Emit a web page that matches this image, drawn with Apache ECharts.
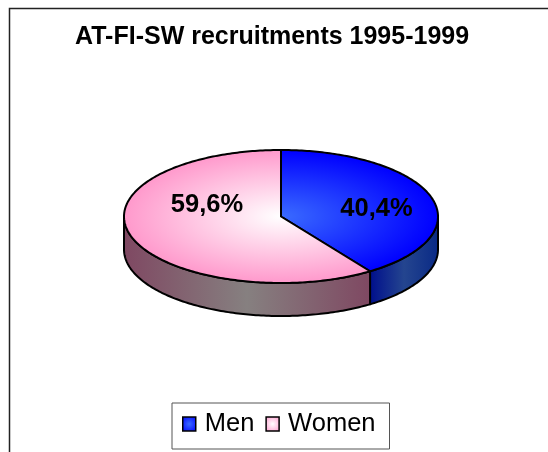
<!DOCTYPE html>
<html><head><meta charset="utf-8">
<style>html,body{margin:0;padding:0;background:#fff}#c{width:548px;height:452px}</style>
<script src="https://cdn.jsdelivr.net/npm/echarts@6/dist/echarts.min.js"></script>
</head><body><div id="c"></div>
<script>
var categories = ["Men", "Women"];
var values = [40.4, 59.6];
var labels = ["40,4%", "59,6%"];
var titleText = "AT-FI-SW recruitments 1995-1999";

var CX = 281, CY = 216.5, RX = 157, RY = 66.5, DEPTH = 33;
var topGrad = [["#3a6bff", "#0000ff"], ["#ffffff", "#ff99cc"]];
var sideGrad = [
  [[0, "#000f8c"], [0.5, "#24458f"], [1, "#0a2a86"]],
  [[0, "#7f4862"], [0.5, "#868080"], [1, "#7f4862"]]
];
var total = values.reduce(function (a, b) { return a + b; }, 0);

function pt(a, dy) { return [CX + RX * Math.sin(a), CY + RY * -Math.cos(a) + (dy || 0)]; }
function arcPts(a0, a1, dy) {
  var n = Math.max(2, Math.ceil(Math.abs(a1 - a0) * 60)), out = [];
  for (var i = 0; i <= n; i++) out.push(pt(a0 + (a1 - a0) * i / n, dy));
  return out;
}

function makeRender(idx) {
  return function () {
    var before = 0;
    for (var k = 0; k < idx; k++) before += values[k];
    var a0 = before / total * 2 * Math.PI;
    var a1 = (before + values[idx]) / total * 2 * Math.PI;
    var children = [];
    var s0 = Math.max(a0, Math.PI / 2), s1 = Math.min(a1, 3 * Math.PI / 2);
    if (s1 > s0) {
      var top = arcPts(s0, s1, 0), bot = arcPts(s1, s0, DEPTH);
      var xs = top.map(function (p) { return p[0]; });
      var minX = Math.min.apply(null, xs), maxX = Math.max.apply(null, xs);
      children.push({
        type: "polygon",
        shape: { points: top.concat(bot) },
        style: {
          fill: {
            type: "linear", x: minX, y: 0, x2: maxX, y2: 0, global: true,
            colorStops: sideGrad[idx].map(function (s) { return { offset: s[0], color: s[1] }; })
          },
          stroke: "#000", lineWidth: 2, lineJoin: "round"
        }
      });
    }
    var n = Math.ceil((a1 - a0) * 60), unit = [[0, 0]];
    for (var i = 0; i <= n; i++) {
      var a = a0 + (a1 - a0) * i / n;
      unit.push([RX * Math.sin(a), -RX * Math.cos(a)]);
    }
    children.push({
      type: "polygon",
      x: CX, y: CY, scaleX: 1, scaleY: RY / RX,
      shape: { points: unit },
      style: {
        fill: {
          type: "radial", x: 0, y: 0, r: RX, global: true,
          colorStops: [{ offset: 0, color: topGrad[idx][0] }, { offset: 1, color: topGrad[idx][1] }]
        }
      }
    });
    children.push({
      type: "polygon",
      shape: { points: [[CX, CY]].concat(arcPts(a0, a1, 0)) },
      style: { fill: "none", stroke: "#000", lineWidth: 2, lineJoin: "round" }
    });
    return { type: "group", children: children };
  };
}

function labelRender(idx, px, py) {
  return { type: "text", x: px, y: py, style: {
    text: labels[idx], font: "bold 25.5px 'Liberation Sans', Arial, sans-serif",
    fill: "#000", align: "center", verticalAlign: "middle" } };
}

var chart = echarts.init(document.getElementById("c"), null, { renderer: "canvas" });
var series = categories.map(function (name, idx) {
  return {
    type: "custom", name: name, coordinateSystem: "none",
    data: [values[idx]], z: 2 + idx, silent: true,
    renderItem: makeRender(idx), animation: false,
    itemStyle: { color: topGrad[idx][1] }
  };
});
series.push({
  type: "custom", name: "labels", coordinateSystem: "none", data: [0], z: 10, silent: true, animation: false,
  renderItem: function () {
    return { type: "group", children: [labelRender(0, 376.5, 209), labelRender(1, 207, 205)] };
  }
});

chart.setOption({
  animation: false,
  backgroundColor: "#fff",
  title: {
    text: titleText, left: 75, top: 25, padding: 0,
    textStyle: { fontFamily: "'Liberation Sans', Arial, sans-serif", fontWeight: "bold", fontSize: 25, color: "#000" }
  },
  legend: {
    data: categories.map(function (c, i) {
      return { name: c, icon: "rect", itemStyle: {
        color: { type: "radial", x: 0.5, y: 0.5, r: 0.7, colorStops: [
          { offset: 0, color: topGrad[i][0] }, { offset: 1, color: topGrad[i][1] }] },
        borderColor: "#000", borderWidth: 1.5 } };
    }),
    left: 172, top: 403, orient: "horizontal",
    itemWidth: 13, itemHeight: 14, itemGap: 11,
    padding: [8, 14, 12, 10],
    borderColor: "#555", borderWidth: 1, backgroundColor: "#fff",
    textStyle: { fontFamily: "'Liberation Sans', Arial, sans-serif", fontSize: 25.5, color: "#000", padding: [0, 0, 0, 4] }
  },
  series: series,
  graphic: [{
    type: "polyline", silent: true, z: -1,
    shape: { points: [[9.5, 452], [9.5, 8.5], [548, 8.5]] },
    style: { fill: "none", stroke: "#222", lineWidth: 1.5 }
  }]
});
</script></body></html>
